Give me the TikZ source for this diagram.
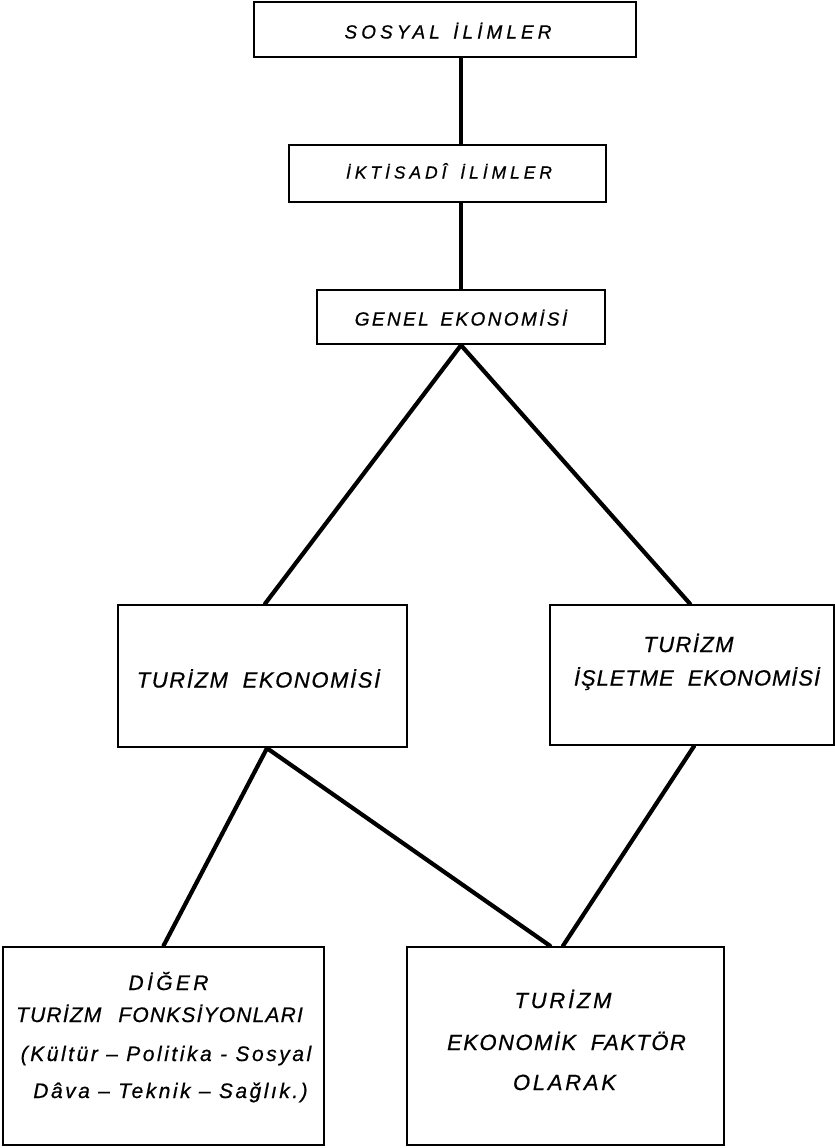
\documentclass[tikz,border=0pt]{standalone}
\usepackage{fontspec}
\setmainfont{Liberation Sans}
\newfontfamily\letter[FakeBold=0.6]{Liberation Sans}
\newcommand\lsp[2]{\fontsize{#1bp}{#1bp}\selectfont\addfontfeature{LetterSpace=#2}}
\newcommand\wsp[1]{\hspace{#1bp}}
\begin{document}
\begin{tikzpicture}[x=1bp,y=-1bp,
  box/.style={draw, line width=2.4bp, inner sep=0pt, rectangle},
  conn/.style={line width=4.2bp, line cap=round},
  txt/.style={font=\letter\itshape, inner sep=0pt, anchor=base}]
\fill[white] (0,0) rectangle (835,1148);
\useasboundingbox (0,0) rectangle (835,1148);
% boxes
\node[box, minimum width=382bp, minimum height=55bp] (b1) at (445,29.5) {};
\node[box, minimum width=317bp, minimum height=57bp] (b2) at (447.5,173.75) {};
\node[box, minimum width=288bp, minimum height=54bp] (b3) at (461,317) {};
\node[box, minimum width=289bp, minimum height=142bp] (b4) at (262.5,676) {};
\node[box, minimum width=284bp, minimum height=140bp] (b5) at (692,675) {};
\node[box, minimum width=321bp, minimum height=198bp] (b6) at (163.5,1046) {};
\node[box, minimum width=317bp, minimum height=198bp] (b7) at (565.5,1046) {};
% texts
\node[txt] (t1) at (448,38.5) {\lsp{19}{21.4}SOSYAL \wsp{4}İLİMLER};
\node[txt] (t2) at (449,178.5) {\lsp{17.5}{22.5}İKTİSADÎ \wsp{5}İLİMLER};
\node[txt] (t3) at (461,325.5) {\lsp{19}{12.6}GENEL \wsp{4}EKONOMİSİ};
\node[txt] (t4) at (258.5,687.5) {\lsp{22}{7.3}TURİZM \wsp{7}EKONOMİSİ};
\node[txt] (t5a) at (688.5,652) {\lsp{22}{6.3}TURİZM};
\node[txt] (t5b) at (697,685.5) {\lsp{22}{4.3}İŞLETME \wsp{7}EKONOMİSİ};
\node[txt] (t6a) at (168.5,990) {\lsp{21}{16}DİĞER};
\node[txt] (t6b) at (159.5,1022) {\lsp{21}{5.6}TURİZM \wsp{10}FONKSİYONLARI};
\node[txt] (t6c) at (166,1061) {\lsp{21}{12.1}(Kültür – Politika - Sosyal};
\node[txt] (t6d) at (170.5,1098) {\lsp{21}{11.9}Dâva – Teknik – Sağlık.)};
\node[txt] (t7a) at (563,1008) {\lsp{22}{12.6}TURİZM};
\node[txt] (t7b) at (566.5,1050) {\lsp{22}{6.8}EKONOMİK \wsp{7}FAKTÖR};
\node[txt] (t7c) at (564.5,1090) {\lsp{22}{12.5}OLARAK};
% connectors
\draw[conn] (b1.south -| b3.north) -- (b2.north -| b3.north);
\draw[conn] (b2.south -| b3.north) -- (b3.north);
\draw[conn] (b3.south) -- ([xshift=2.5bp]b4.north);
\draw[conn] (b3.south) -- ([xshift=-2bp]b5.north);
\draw[conn] ([xshift=4.5bp]b4.south) -- (b6.north);
\draw[conn] ([xshift=4.5bp]b4.south) -- ([xshift=-15.5bp]b7.north);
\draw[conn] ([xshift=2bp]b5.south) -- ([xshift=-2.5bp]b7.north);
\end{tikzpicture}
\end{document}
